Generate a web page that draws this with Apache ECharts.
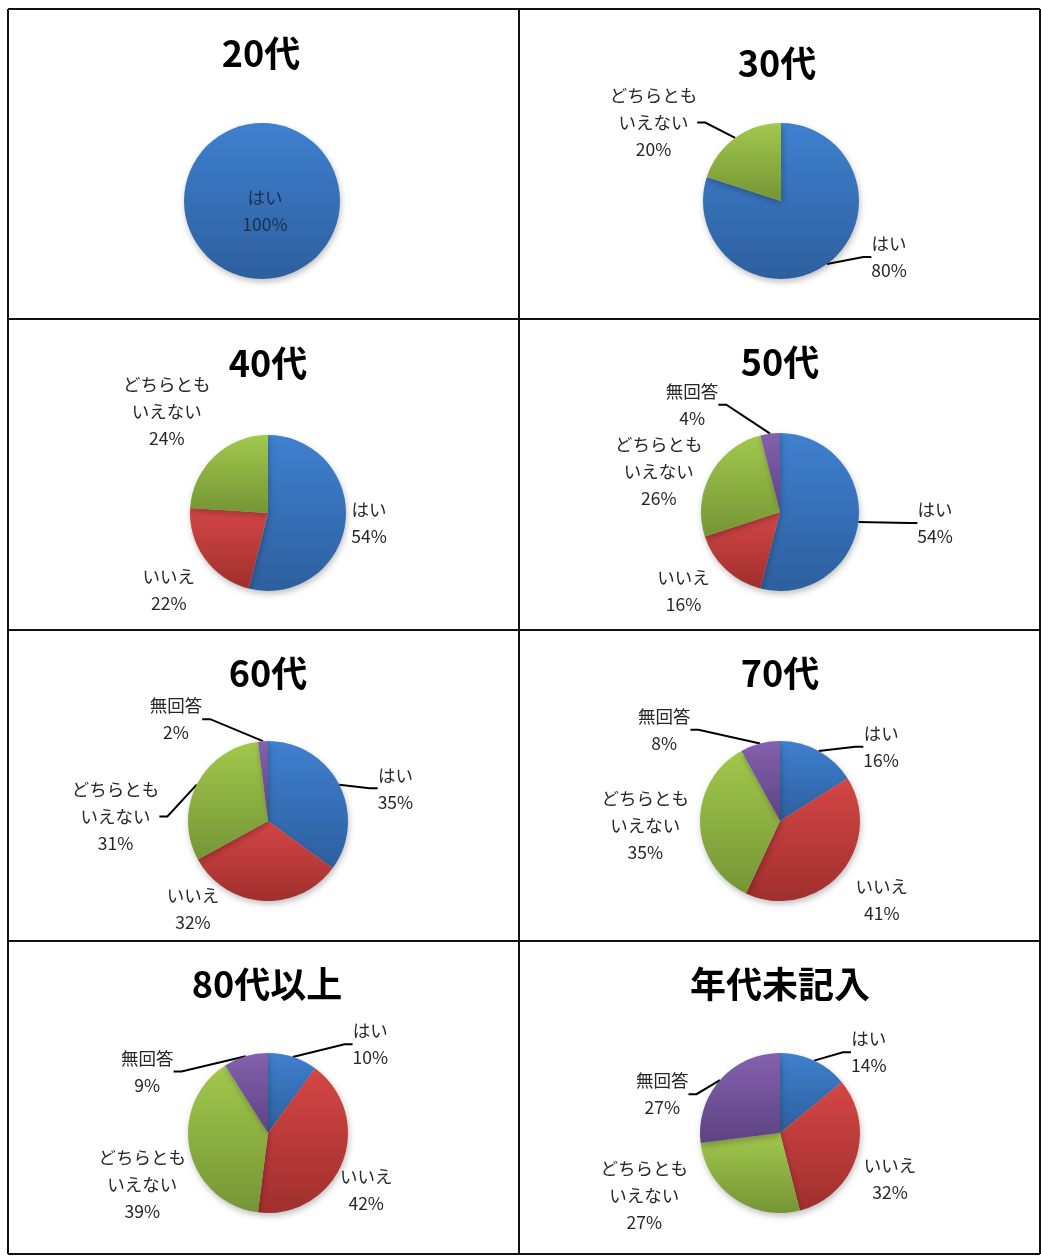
<!DOCTYPE html>
<html><head><meta charset="utf-8">
<script src="https://cdn.jsdelivr.net/npm/echarts@6/dist/echarts.min.js"></script>
<style>html,body{margin:0;padding:0;background:#fff}#c{width:1041px;height:1260px}</style>
</head><body><div id="c"></div>
<script>
// ---- data ----
const categories = ['はい', 'いいえ', 'どちらとも\nいえない', '無回答'];
const ageGroups = ['20代', '30代', '40代', '50代', '60代', '70代', '80代以上', '年代未記入'];
const values20s = [100, 0, 0, 0];
const values30s = [80, 0, 20, 0];
const values40s = [54, 22, 24, 0];
const values50s = [54, 16, 26, 4];
const values60s = [35, 32, 31, 2];
const values70s = [16, 41, 35, 8];
const values80s = [10, 42, 39, 9];
const valuesUnknown = [14, 32, 27, 27];
const allValues = [values20s, values30s, values40s, values50s, values60s, values70s, values80s, valuesUnknown];

// ---- styling / layout (not data) ----
const sliceColors = [['#3f80cf', '#2d5f9e'], ['#d44646', '#a02f2d'], ['#a2c84d', '#759535'], ['#8461ad', '#5d4382']];
const cells = [
  { center: [262, 201], r: 78, title: [261, 56] },
  { center: [781, 201], r: 78, title: [777, 66] },
  { center: [268, 513], r: 78, title: [268, 366] },
  { center: [780, 512], r: 79, title: [780, 365] },
  { center: [268, 821], r: 80, title: [268, 676] },
  { center: [780, 821], r: 80, title: [780, 676] },
  { center: [268, 1133], r: 80, title: [267, 987] },
  { center: [780, 1133], r: 80, title: [780, 987] }
];
// small hand-placement nudges of the labels (Excel-style manual label placement), per chart / category
const labelNudges = [
  [[3, 10], null, null, null],
  [[42, -39], null, [-37, 30], null],
  [[0, -6], [-5, 2], [0, 0], null],
  [[53, -5], [-12, -10], [-3, 32], [-72, 4]],
  [[33, 26], [-67, -25], [-32, 64], [-84, 11]],
  [[46, 28], [11, -5], [-5, 0], [-84, 19]],
  [[67, 20], [-8, 9], [2, 18], [-85, 48]],
  [[40, 24], [2, 6], [-48, -49], [-27, 45]]
];
const leaderLines = [
  [0, 0, 0, 0], [1, 0, 1, 0], [0, 0, 0, 0], [1, 0, 0, 1],
  [1, 0, 1, 1], [1, 0, 0, 1], [1, 0, 0, 1], [1, 0, 0, 1]
];
const FONT = '"Noto Sans CJK JP", "Noto Sans", sans-serif';
const TXT = '#262626';

function grad(i) {
  return new echarts.graphic.LinearGradient(0, 0, 0, 1, [
    { offset: 0, color: sliceColors[i][0] },
    { offset: 1, color: sliceColors[i][1] }
  ]);
}
function fmt(p) {
  const lines = p.name.split('\n').concat([p.value + '%']);
  return lines.map(l => '{t|' + l + '}').join('\n');
}
const clamp = v => Math.max(-1, Math.min(1, v));

const chart = echarts.init(document.getElementById('c'), null, { renderer: 'canvas' });
const titles = [];
const series = [];
ageGroups.forEach((g, k) => {
  const cell = cells[k];
  titles.push({
    text: g, left: cell.title[0], top: cell.title[1] - 21, textAlign: 'center', padding: 0,
    textStyle: { fontFamily: FONT, fontWeight: 'bold', fontSize: 36, color: '#000' }
  });
  const data = [];
  const catIdx = [];
  const mids = [];
  const vals = allValues[k];
  const total = vals.reduce((a, b) => a + b, 0);
  let cum = 0;
  vals.forEach((v, i) => {
    if (v > 0) {
      data.push({
        name: categories[i], value: v, itemStyle: { color: grad(i) },
        labelLine: { show: !!leaderLines[k][i] }
      });
      catIdx.push(i);
      mids.push((cum + v / 2) / total * 2 * Math.PI);
      cum += v;
    }
  });
  const single = data.length === 1;
  series.push({
    type: 'pie',
    center: cell.center,
    radius: cell.r,
    startAngle: 90,
    clockwise: true,
    silent: true,
    animation: false,
    avoidLabelOverlap: false,
    data: data,
    itemStyle: { borderWidth: 0, shadowBlur: 6, shadowOffsetX: 1, shadowOffsetY: 3, shadowColor: 'rgba(0,0,0,0.25)' },
    label: {
      show: true,
      position: single ? 'center' : 'outside',
      formatter: fmt,
      color: single ? '#1c2e4a' : TXT,
      fontFamily: FONT,
      fontSize: 17.5,
      lineHeight: 27,
      rich: { t: { align: 'center', fontFamily: FONT, fontSize: 17.5, lineHeight: 27, color: single ? '#1c2e4a' : TXT } }
    },
    labelLine: { show: true, length: 10, length2: 8, smooth: false, minTurnAngle: 90, lineStyle: { color: '#000', width: 2 } },
    labelLayout: function (p) {
      const i = catIdx[p.dataIndex];
      const nud = labelNudges[k][i] || [0, 0];
      let cx = cell.center[0], cy = cell.center[1];
      if (!single) {
        const a = mids[p.dataIndex];
        const ux = Math.sin(a), uy = -Math.cos(a);
        const w = p.labelRect.width, h = p.labelRect.height;
        const d = cell.r + 6;
        cx = cx + ux * d + clamp(1.6 * ux) * w / 2;
        cy = cy + uy * d + clamp(1.6 * uy) * h / 2;
      }
      return { x: cx + nud[0], y: cy + nud[1], align: 'center', verticalAlign: 'middle' };
    }
  });
});

const L = (x1, y1, x2, y2) => ({ type: 'line', shape: { x1, y1, x2, y2 }, style: { stroke: '#111', lineWidth: 2 }, silent: true });
chart.setOption({
  animation: false,
  title: titles,
  series: series,
  graphic: [
    L(8, 9, 1040, 9), L(8, 1254, 1040, 1254), L(8, 9, 8, 1254), L(1040, 9, 1040, 1254),
    L(519, 9, 519, 1254), L(8, 319, 1040, 319), L(8, 630, 1040, 630), L(8, 941, 1040, 941)
  ]
});
</script></body></html>
